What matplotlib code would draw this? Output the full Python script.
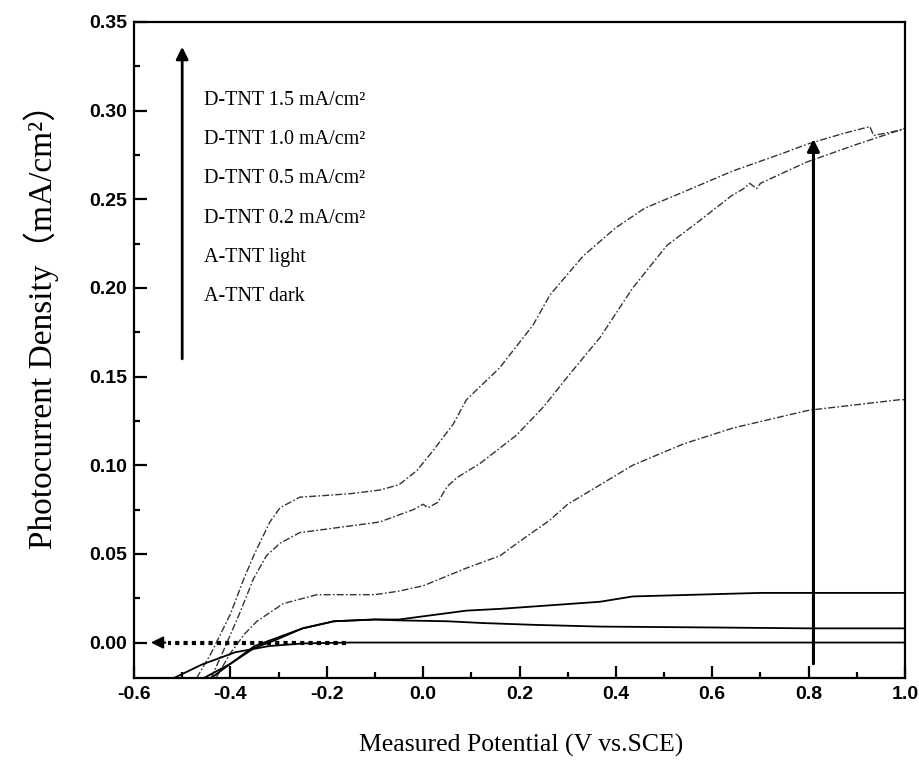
import matplotlib
matplotlib.use("Agg")
import matplotlib.pyplot as plt
import numpy as np

# ---------------- data ----------------
x_15 = [-0.470, -0.440, -0.400, -0.372, -0.350, -0.318, -0.297, -0.256, -0.200, -0.150,
        -0.090, -0.050, -0.013, 0.020, 0.062, 0.090, 0.159, 0.228, 0.263, 0.332,
        0.400, 0.460, 0.539, 0.643, 0.747, 0.796, 0.870, 0.927, 0.935, 0.990, 1.000]
y_15 = [-0.020, -0.006, 0.016, 0.036, 0.050, 0.068, 0.076, 0.082, 0.083, 0.084,
        0.086, 0.089, 0.097, 0.108, 0.123, 0.137, 0.155, 0.179, 0.196, 0.218,
        0.234, 0.245, 0.254, 0.266, 0.276, 0.281, 0.287, 0.291, 0.286, 0.289, 0.290]

x_10 = [-0.440, -0.415, -0.380, -0.352, -0.325, -0.297, -0.256, -0.200, -0.090, -0.020,
        0.000, 0.010, 0.030, 0.050, 0.070, 0.118, 0.194, 0.250, 0.300, 0.367,
        0.435, 0.506, 0.574, 0.640, 0.665, 0.678, 0.692, 0.700, 0.796, 0.900, 1.000]
y_10 = [-0.020, -0.005, 0.017, 0.036, 0.049, 0.056, 0.062, 0.064, 0.068, 0.075,
        0.078, 0.076, 0.079, 0.088, 0.093, 0.101, 0.117, 0.133, 0.150, 0.172,
        0.200, 0.224, 0.238, 0.252, 0.256, 0.259, 0.256, 0.259, 0.271, 0.281, 0.290]

x_05 = [-0.430, -0.400, -0.370, -0.345, -0.290, -0.220, -0.100, -0.050, 0.000, 0.090,
        0.160, 0.200, 0.263, 0.300, 0.435, 0.540, 0.643, 0.800, 0.990, 1.000]
y_05 = [-0.020, -0.006, 0.005, 0.012, 0.022, 0.027, 0.027, 0.029, 0.032, 0.042,
        0.049, 0.057, 0.069, 0.078, 0.100, 0.112, 0.121, 0.131, 0.137, 0.137]

x_02 = [-0.440, -0.400, -0.350, -0.310, -0.250, -0.185, -0.100, -0.050, 0.090, 0.160,
        0.367, 0.435, 0.700, 1.000]
y_02 = [-0.020, -0.012, -0.003, 0.001, 0.008, 0.012, 0.013, 0.013, 0.018, 0.019,
        0.023, 0.026, 0.028, 0.028]

x_light = [-0.455, -0.400, -0.350, -0.310, -0.250, -0.185, -0.100, -0.050, 0.050, 0.124,
           0.228, 0.367, 0.600, 0.800, 1.000]
y_light = [-0.020, -0.012, -0.002, 0.002, 0.008, 0.012, 0.013, 0.0125, 0.012, 0.011,
           0.010, 0.009, 0.0085, 0.008, 0.008]

x_dark = [-0.517, -0.460, -0.390, -0.320, -0.250, -0.150, 0.000, 0.500, 1.000]
y_dark = [-0.020, -0.0125, -0.0055, -0.002, -0.0005, 0.000, 0.000, 0.000, 0.000]

legend_labels = ["D-TNT 1.5 mA/cm²", "D-TNT 1.0 mA/cm²", "D-TNT 0.5 mA/cm²",
                 "D-TNT 0.2 mA/cm²", "A-TNT light", "A-TNT dark"]

x_ticks = [-0.6, -0.4, -0.2, 0.0, 0.2, 0.4, 0.6, 0.8, 1.0]
y_ticks = [0.00, 0.05, 0.10, 0.15, 0.20, 0.25, 0.30, 0.35]

# ---------------- figure ----------------
W, H = 919, 769
fig = plt.figure(figsize=(W / 100, H / 100), dpi=100)
left, right, top, bottom = 134, 905, 22, 678
ax = fig.add_axes([left / W, (H - bottom) / H, (right - left) / W, (bottom - top) / H])

dashdot = (0, (5, 1.6, 1.2, 1.6))
for xs, ys in [(x_15, y_15), (x_10, y_10), (x_05, y_05)]:
    ax.plot(xs, ys, color="#333333", lw=1.0, ls=dashdot)
for xs, ys in [(x_02, y_02), (x_light, y_light), (x_dark, y_dark)]:
    ax.plot(xs, ys, color="black", lw=1.3)

ax.set_xlim(-0.6, 1.0)
ax.set_ylim(-0.02, 0.35)
ax.set_xticks(x_ticks)
ax.set_yticks(y_ticks)
ax.set_xticklabels([f"{v:.1f}" for v in x_ticks])
ax.set_yticklabels([f"{v:.2f}" for v in y_ticks])
ax.xaxis.set_minor_locator(matplotlib.ticker.MultipleLocator(0.1))
ax.yaxis.set_minor_locator(matplotlib.ticker.MultipleLocator(0.025))
ax.tick_params(which="both", direction="in", top=False, right=False, width=1.6)
ax.tick_params(which="major", length=9)
ax.tick_params(which="minor", length=4.5)
ax.tick_params(axis="x", pad=6)
ax.tick_params(axis="y", pad=5)
for lab in ax.get_xticklabels() + ax.get_yticklabels():
    lab.set_fontfamily("Liberation Sans")
    lab.set_fontweight("bold")
    lab.set_fontsize(14)
for s in ax.spines.values():
    s.set_linewidth(1.6)

# legend as text
leg_x = -0.455
leg_y0 = 0.306
for i, lab in enumerate(legend_labels):
    ax.text(leg_x, leg_y0 - i * 0.0222, lab, fontfamily="Liberation Serif",
            fontsize=14.5, va="center", ha="left")

# arrows
ax.annotate("", xy=(-0.50, 0.336), xytext=(-0.50, 0.160),
            arrowprops=dict(arrowstyle="-|>", lw=2.0, color="black", mutation_scale=18,
                            shrinkA=0, shrinkB=0))
ax.annotate("", xy=(0.81, 0.284), xytext=(0.81, -0.012),
            arrowprops=dict(arrowstyle="-|>", lw=2.2, color="black", mutation_scale=18,
                            shrinkA=0, shrinkB=0))
ax.plot([-0.16, -0.53], [0.0, 0.0], color="black", lw=3.0, ls=(0, (1, 1)))
ax.annotate("", xy=(-0.565, 0.0), xytext=(-0.535, 0.0),
            arrowprops=dict(arrowstyle="-|>", lw=1.5, color="black", mutation_scale=18,
                            shrinkA=0, shrinkB=0))

fig.text(41 / W, 1 - 318 / H, "Photocurrent Density（mA/cm²）", rotation=90,
         ha="center", va="center", fontsize=24,
         fontfamily=["Liberation Serif", "Noto Sans CJK SC"])
fig.text(521 / W, 1 - 745 / H, "Measured Potential (V vs.SCE)", ha="center",
         va="center", fontsize=18.5, fontfamily="Liberation Serif")

fig.savefig("out.png", dpi=100)
